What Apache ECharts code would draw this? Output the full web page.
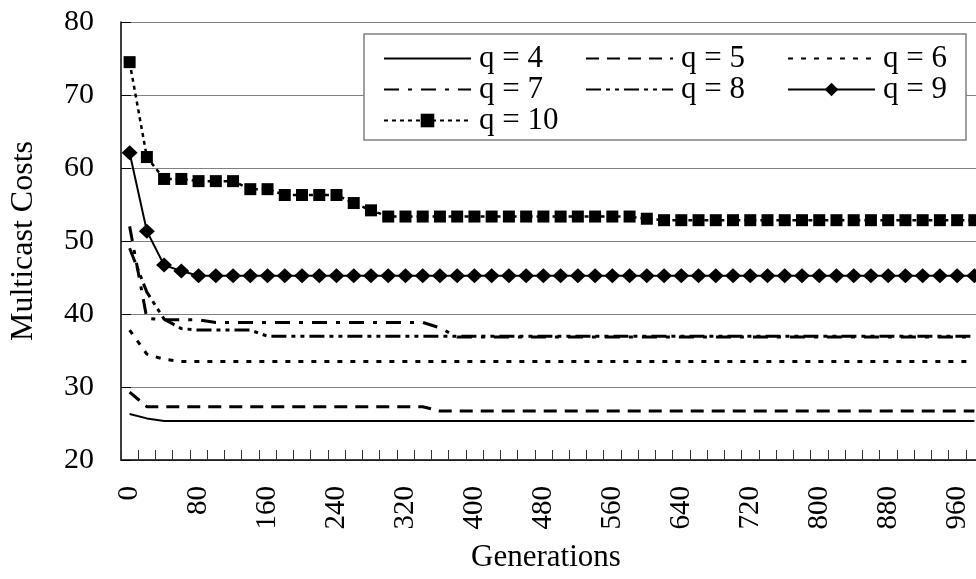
<!DOCTYPE html>
<html>
<head>
<meta charset="utf-8">
<script src="https://cdn.jsdelivr.net/npm/echarts@6/dist/echarts.min.js"></script>
<style>
html,body{margin:0;padding:0;background:#fff;}
#chart{width:976px;height:579px;}
</style>
</head>
<body>
<div id="chart"></div>
<script>
// Categories: generations 0..980 step 20
const generations = ['0','20','40','60','80','100','120','140','160','180','200','220','240','260','280','300','320','340','360','380','400','420','440','460','480','500','520','540','560','580','600','620','640','660','680','700','720','740','760','780','800','820','840','860','880','900','920','940','960','980'];

const q4 = [26.3,25.7,25.35,25.35,25.35,25.35,25.35,25.35,25.35,25.35,25.35,25.35,25.35,25.35,25.35,25.35,25.35,25.35,25.35,25.35,25.35,25.35,25.35,25.35,25.35,25.35,25.35,25.35,25.35,25.35,25.35,25.35,25.35,25.35,25.35,25.35,25.35,25.35,25.35,25.35,25.35,25.35,25.35,25.35,25.35,25.35,25.35,25.35,25.35,25.35];
const q5 = [29.3,27.3,27.3,27.3,27.3,27.3,27.3,27.3,27.3,27.3,27.3,27.3,27.3,27.3,27.3,27.3,27.3,27.3,26.7,26.7,26.7,26.7,26.7,26.7,26.7,26.7,26.7,26.7,26.7,26.7,26.7,26.7,26.7,26.7,26.7,26.7,26.7,26.7,26.7,26.7,26.7,26.7,26.7,26.7,26.7,26.7,26.7,26.7,26.7,26.7];
const q6 = [37.8,34.5,33.8,33.5,33.5,33.5,33.5,33.5,33.5,33.5,33.5,33.5,33.5,33.5,33.5,33.5,33.5,33.5,33.5,33.5,33.5,33.5,33.5,33.5,33.5,33.5,33.5,33.5,33.5,33.5,33.5,33.5,33.5,33.5,33.5,33.5,33.5,33.5,33.5,33.5,33.5,33.5,33.5,33.5,33.5,33.5,33.5,33.5,33.5,33.5];
const q7 = [52.0,39.4,39.2,39.2,39.2,38.85,38.85,38.85,38.85,38.85,38.85,38.85,38.85,38.85,38.85,38.85,38.85,38.85,38.1,36.85,36.85,36.85,36.85,36.85,36.85,36.85,36.85,36.85,36.85,36.85,36.85,36.85,36.85,36.85,36.85,36.85,36.85,36.85,36.85,36.85,36.85,36.85,36.85,36.85,36.85,36.85,36.85,36.85,36.85,36.85];
const q8 = [49.0,43.0,39.3,38.0,37.8,37.8,37.8,37.8,36.95,36.95,36.95,36.95,36.95,36.95,36.95,36.95,36.95,36.95,36.95,36.95,36.95,36.95,36.95,36.95,36.95,36.95,36.95,36.95,36.95,36.95,36.95,36.95,36.95,36.95,36.95,36.95,36.95,36.95,36.95,36.95,36.95,36.95,36.95,36.95,36.95,36.95,36.95,36.95,36.95,36.95];
const q9 = [62.1,51.35,46.7,45.9,45.25,45.25,45.25,45.25,45.25,45.25,45.25,45.25,45.25,45.25,45.25,45.25,45.25,45.25,45.25,45.25,45.25,45.25,45.25,45.25,45.25,45.25,45.25,45.25,45.25,45.25,45.25,45.25,45.25,45.25,45.25,45.25,45.25,45.25,45.25,45.25,45.25,45.25,45.25,45.25,45.25,45.25,45.25,45.25,45.25,45.25];
const q10 = [74.5,61.5,58.5,58.5,58.2,58.2,58.2,57.1,57.1,56.3,56.3,56.3,56.3,55.2,54.2,53.35,53.35,53.35,53.35,53.35,53.35,53.35,53.35,53.35,53.35,53.35,53.35,53.35,53.35,53.35,53.05,52.85,52.85,52.85,52.85,52.85,52.85,52.85,52.85,52.85,52.85,52.85,52.85,52.85,52.85,52.85,52.85,52.85,52.85,52.85];

const seriesNames = ['q = 4','q = 5','q = 6','q = 7','q = 8','q = 9','q = 10'];
const yTicks = {min: 20, max: 80, interval: 10};

const FONT = "'Liberation Serif','Times New Roman',serif";
const BLACK = '#000';

function lineSeries(name, data, dash, width, symbol, symbolSize) {
  return {
    name: name,
    type: 'line',
    data: data,
    symbol: symbol || 'none',
    symbolSize: symbolSize || 0,
    showSymbol: !!symbol,
    showAllSymbol: true,
    smooth: false,
    lineStyle: {color: BLACK, width: width, type: dash},
    itemStyle: {color: BLACK, borderWidth: 0},
    emphasis: {disabled: true},
    z: 3
  };
}

const series = [
  lineSeries(seriesNames[0], q4, 'solid', 2),
  lineSeries(seriesNames[1], q5, [13, 8], 3),
  lineSeries(seriesNames[2], q6, [5, 8], 3),
  lineSeries(seriesNames[3], q7, [15, 9, 4, 9], 3),
  lineSeries(seriesNames[4], q8, [15, 5, 4, 5, 4, 5], 3),
  lineSeries(seriesNames[5], q9, 'solid', 2, 'diamond', [16, 15]),
  lineSeries(seriesNames[6], q10, [4, 4], 2.5, 'rect', 12)
];

const noMarker = new Set([seriesNames[0], seriesNames[1], seriesNames[2], seriesNames[3], seriesNames[4]]);

function legendCol(left, names) {
  return {
    orient: 'vertical',
    left: left,
    top: 38,
    itemWidth: 87,
    itemHeight: 17,
    itemGap: 0,
    data: names.map(n => noMarker.has(n) ? {name: n, itemStyle: {opacity: 0}} : {name: n}),
    selectedMode: false,
    textStyle: {fontFamily: FONT, fontSize: 31, color: BLACK, lineHeight: 31, padding: [0, 0, 0, 3]},
    z: 10
  };
}

const chart = echarts.init(document.getElementById('chart'), null, {renderer: 'canvas'});
chart.setOption({
  animation: false,
  backgroundColor: '#fff',
  grid: {left: 121, right: -7, top: 22, bottom: 119, containLabel: false, outerBoundsMode: 'none'},
  graphic: [{
    type: 'rect',
    shape: {x: 364, y: 34, width: 602, height: 106},
    style: {fill: '#fff', stroke: '#808080', lineWidth: 1.5},
    z: 5
  }],
  legend: [
    legendCol(378, [seriesNames[0], seriesNames[3], seriesNames[6]]),
    legendCol(580, [seriesNames[1], seriesNames[4]]),
    legendCol(782, [seriesNames[2], seriesNames[5]])
  ],
  xAxis: {
    type: 'category',
    data: generations,
    boundaryGap: true,
    name: 'Generations',
    nameLocation: 'middle',
    nameGap: 82,
    nameTextStyle: {fontFamily: FONT, fontSize: 31, color: BLACK, padding: [0, 12, 0, 0]},
    axisLine: {lineStyle: {color: BLACK, width: 1.5}},
    axisTick: {show: true, inside: true, length: 10, interval: 0, lineStyle: {color: '#333', width: 1}},
    axisLabel: {interval: 3, rotate: 90, margin: 26, fontFamily: FONT, fontSize: 29, color: BLACK},
    splitLine: {show: false}
  },
  yAxis: {
    type: 'value',
    min: yTicks.min,
    max: yTicks.max,
    interval: yTicks.interval,
    name: 'Multicast Costs',
    nameLocation: 'middle',
    nameGap: 81,
    nameTextStyle: {fontFamily: FONT, fontSize: 32, color: BLACK},
    axisLine: {show: true, lineStyle: {color: BLACK, width: 1.5}},
    axisTick: {show: true, inside: true, length: 10, lineStyle: {color: BLACK, width: 1}},
    axisLabel: {margin: 27, fontFamily: FONT, fontSize: 30, color: BLACK},
    splitLine: {show: true, lineStyle: {color: '#808080', width: 1}}
  },
  series: series
});
</script>
</body>
</html>
